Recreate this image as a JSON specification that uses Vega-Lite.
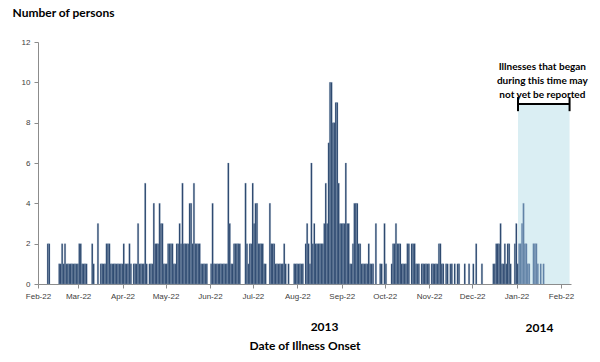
{
  "$schema": "https://vega.github.io/schema/vega-lite/v6.json",
  "width": 533,
  "height": 242,
  "autosize": "none",
  "padding": {"left": 38, "top": 42, "right": 29, "bottom": 78},
  "background": "white",
  "config": {
    "view": {"stroke": null},
    "axis": {"labelFont": "Liberation Sans", "labelFontSize": 8, "labelColor": "#404040", "domainColor": "#8c8c8c", "tickColor": "#8c8c8c", "titleFont": "Lato", "titleFontWeight": "bold", "titleColor": "#000000", "titleFontSize": 12, "grid": false, "labelFlush": false}
  },
  "datasets": {
    "cases": [
      {"date":"2013-02-28","count":2},{"date":"2013-03-01","count":2},
      {"date":"2013-03-08","count":1},{"date":"2013-03-09","count":1},{"date":"2013-03-10","count":2},{"date":"2013-03-11","count":1},{"date":"2013-03-12","count":2},{"date":"2013-03-13","count":1},{"date":"2013-03-14","count":1},{"date":"2013-03-15","count":1},{"date":"2013-03-16","count":1},{"date":"2013-03-17","count":1},{"date":"2013-03-18","count":1},{"date":"2013-03-19","count":1},{"date":"2013-03-20","count":1},{"date":"2013-03-21","count":1},{"date":"2013-03-22","count":2},{"date":"2013-03-23","count":2},{"date":"2013-03-24","count":1},{"date":"2013-03-25","count":1},{"date":"2013-03-26","count":1},{"date":"2013-03-27","count":1},{"date":"2013-03-31","count":2},
      {"date":"2013-04-01","count":1},{"date":"2013-04-04","count":3},{"date":"2013-04-06","count":1},{"date":"2013-04-07","count":1},{"date":"2013-04-08","count":1},{"date":"2013-04-09","count":1},{"date":"2013-04-10","count":2},{"date":"2013-04-11","count":2},{"date":"2013-04-12","count":2},{"date":"2013-04-13","count":1},{"date":"2013-04-14","count":1},{"date":"2013-04-15","count":1},{"date":"2013-04-16","count":1},{"date":"2013-04-17","count":1},{"date":"2013-04-18","count":1},{"date":"2013-04-19","count":1},{"date":"2013-04-20","count":1},{"date":"2013-04-21","count":1},{"date":"2013-04-22","count":2},{"date":"2013-04-23","count":1},{"date":"2013-04-24","count":1},{"date":"2013-04-25","count":1},{"date":"2013-04-26","count":2},{"date":"2013-04-27","count":1},{"date":"2013-04-29","count":1},{"date":"2013-04-30","count":1},
      {"date":"2013-05-01","count":1},{"date":"2013-05-02","count":3},{"date":"2013-05-03","count":1},{"date":"2013-05-04","count":1},{"date":"2013-05-05","count":1},{"date":"2013-05-06","count":1},{"date":"2013-05-07","count":5},{"date":"2013-05-08","count":1},{"date":"2013-05-10","count":1},{"date":"2013-05-11","count":1},{"date":"2013-05-12","count":1},{"date":"2013-05-13","count":4},{"date":"2013-05-14","count":2},{"date":"2013-05-15","count":2},{"date":"2013-05-16","count":2},{"date":"2013-05-17","count":4},{"date":"2013-05-18","count":3},{"date":"2013-05-19","count":3},{"date":"2013-05-20","count":1},{"date":"2013-05-21","count":1},{"date":"2013-05-22","count":1},{"date":"2013-05-23","count":2},{"date":"2013-05-24","count":2},{"date":"2013-05-25","count":2},{"date":"2013-05-26","count":2},{"date":"2013-05-27","count":1},{"date":"2013-05-28","count":1},{"date":"2013-05-29","count":2},{"date":"2013-05-30","count":2},{"date":"2013-05-31","count":3},
      {"date":"2013-06-01","count":2},{"date":"2013-06-02","count":5},{"date":"2013-06-03","count":2},{"date":"2013-06-04","count":2},{"date":"2013-06-05","count":2},{"date":"2013-06-06","count":2},{"date":"2013-06-07","count":4},{"date":"2013-06-08","count":4},{"date":"2013-06-09","count":2},{"date":"2013-06-10","count":5},{"date":"2013-06-11","count":2},{"date":"2013-06-12","count":2},{"date":"2013-06-13","count":2},{"date":"2013-06-14","count":2},{"date":"2013-06-15","count":1},{"date":"2013-06-16","count":1},{"date":"2013-06-17","count":1},{"date":"2013-06-18","count":1},{"date":"2013-06-19","count":1},{"date":"2013-06-22","count":1},{"date":"2013-06-23","count":4},{"date":"2013-06-24","count":1},{"date":"2013-06-25","count":1},{"date":"2013-06-26","count":1},{"date":"2013-06-27","count":1},{"date":"2013-06-28","count":1},{"date":"2013-06-29","count":1},{"date":"2013-06-30","count":1},
      {"date":"2013-07-01","count":1},{"date":"2013-07-02","count":1},{"date":"2013-07-03","count":1},{"date":"2013-07-04","count":6},{"date":"2013-07-05","count":3},{"date":"2013-07-06","count":1},{"date":"2013-07-07","count":1},{"date":"2013-07-08","count":2},{"date":"2013-07-09","count":2},{"date":"2013-07-10","count":2},{"date":"2013-07-11","count":2},{"date":"2013-07-12","count":2},{"date":"2013-07-16","count":5},{"date":"2013-07-17","count":2},{"date":"2013-07-18","count":1},{"date":"2013-07-19","count":2},{"date":"2013-07-20","count":2},{"date":"2013-07-21","count":5},{"date":"2013-07-22","count":3},{"date":"2013-07-23","count":4},{"date":"2013-07-24","count":4},{"date":"2013-07-25","count":2},{"date":"2013-07-26","count":2},{"date":"2013-07-27","count":2},{"date":"2013-07-28","count":2},{"date":"2013-07-29","count":1},{"date":"2013-07-30","count":1},
      {"date":"2013-08-02","count":4},{"date":"2013-08-03","count":2},{"date":"2013-08-04","count":2},{"date":"2013-08-05","count":2},{"date":"2013-08-06","count":1},{"date":"2013-08-07","count":1},{"date":"2013-08-08","count":1},{"date":"2013-08-09","count":1},{"date":"2013-08-10","count":1},{"date":"2013-08-11","count":1},{"date":"2013-08-12","count":2},{"date":"2013-08-13","count":1},{"date":"2013-08-15","count":1},{"date":"2013-08-19","count":1},{"date":"2013-08-20","count":1},{"date":"2013-08-21","count":1},{"date":"2013-08-22","count":1},{"date":"2013-08-23","count":1},{"date":"2013-08-24","count":1},{"date":"2013-08-25","count":1},{"date":"2013-08-27","count":2},{"date":"2013-08-28","count":3},{"date":"2013-08-29","count":2},{"date":"2013-08-30","count":1},{"date":"2013-08-31","count":6},
      {"date":"2013-09-01","count":2},{"date":"2013-09-02","count":3},{"date":"2013-09-03","count":2},{"date":"2013-09-04","count":2},{"date":"2013-09-05","count":2},{"date":"2013-09-06","count":2},{"date":"2013-09-07","count":2},{"date":"2013-09-08","count":2},{"date":"2013-09-09","count":3},{"date":"2013-09-10","count":5},{"date":"2013-09-11","count":3},{"date":"2013-09-12","count":7},{"date":"2013-09-13","count":10},{"date":"2013-09-14","count":10},{"date":"2013-09-15","count":8},{"date":"2013-09-16","count":8},{"date":"2013-09-17","count":9},{"date":"2013-09-18","count":9},{"date":"2013-09-19","count":5},{"date":"2013-09-20","count":3},{"date":"2013-09-21","count":3},{"date":"2013-09-22","count":3},{"date":"2013-09-23","count":3},{"date":"2013-09-24","count":6},{"date":"2013-09-25","count":3},{"date":"2013-09-26","count":3},{"date":"2013-09-27","count":1},{"date":"2013-09-28","count":1},{"date":"2013-09-29","count":2},{"date":"2013-09-30","count":4},
      {"date":"2013-10-01","count":4},{"date":"2013-10-02","count":4},{"date":"2013-10-03","count":2},{"date":"2013-10-04","count":2},{"date":"2013-10-05","count":1},{"date":"2013-10-06","count":1},{"date":"2013-10-07","count":1},{"date":"2013-10-08","count":1},{"date":"2013-10-09","count":1},{"date":"2013-10-10","count":2},{"date":"2013-10-11","count":1},{"date":"2013-10-12","count":1},{"date":"2013-10-13","count":1},{"date":"2013-10-15","count":3},{"date":"2013-10-18","count":1},{"date":"2013-10-19","count":1},{"date":"2013-10-21","count":3},{"date":"2013-10-22","count":1},{"date":"2013-10-26","count":1},{"date":"2013-10-27","count":2},{"date":"2013-10-28","count":2},{"date":"2013-10-29","count":3},{"date":"2013-10-30","count":2},{"date":"2013-10-31","count":2},
      {"date":"2013-11-01","count":2},{"date":"2013-11-02","count":1},{"date":"2013-11-03","count":1},{"date":"2013-11-04","count":1},{"date":"2013-11-05","count":1},{"date":"2013-11-06","count":2},{"date":"2013-11-07","count":2},{"date":"2013-11-09","count":2},{"date":"2013-11-10","count":2},{"date":"2013-11-11","count":2},{"date":"2013-11-12","count":1},{"date":"2013-11-13","count":1},{"date":"2013-11-14","count":1},{"date":"2013-11-16","count":1},{"date":"2013-11-17","count":1},{"date":"2013-11-18","count":1},{"date":"2013-11-19","count":1},{"date":"2013-11-20","count":1},{"date":"2013-11-21","count":1},{"date":"2013-11-23","count":1},{"date":"2013-11-24","count":1},{"date":"2013-11-25","count":1},{"date":"2013-11-26","count":1},{"date":"2013-11-27","count":1},{"date":"2013-11-28","count":2},{"date":"2013-11-29","count":2},{"date":"2013-11-30","count":1},
      {"date":"2013-12-01","count":1},{"date":"2013-12-03","count":1},{"date":"2013-12-04","count":1},{"date":"2013-12-06","count":1},{"date":"2013-12-07","count":1},{"date":"2013-12-09","count":1},{"date":"2013-12-11","count":1},{"date":"2013-12-12","count":1},{"date":"2013-12-16","count":1},{"date":"2013-12-19","count":1},{"date":"2013-12-22","count":1},{"date":"2013-12-24","count":2},{"date":"2013-12-28","count":1},
      {"date":"2014-01-05","count":1},{"date":"2014-01-06","count":1},{"date":"2014-01-07","count":2},{"date":"2014-01-08","count":2},{"date":"2014-01-09","count":2},{"date":"2014-01-10","count":3},{"date":"2014-01-11","count":1},{"date":"2014-01-12","count":1},{"date":"2014-01-13","count":2},{"date":"2014-01-14","count":1},{"date":"2014-01-15","count":2},{"date":"2014-01-16","count":2},{"date":"2014-01-17","count":1},{"date":"2014-01-20","count":2},{"date":"2014-01-21","count":3},{"date":"2014-01-22","count":1},{"date":"2014-01-23","count":2},{"date":"2014-01-24","count":2},{"date":"2014-01-25","count":3},{"date":"2014-01-26","count":4},{"date":"2014-01-27","count":2},{"date":"2014-01-28","count":2},{"date":"2014-01-29","count":1},{"date":"2014-01-30","count":1},
      {"date":"2014-02-02","count":2},{"date":"2014-02-03","count":2},{"date":"2014-02-04","count":2},{"date":"2014-02-05","count":1},{"date":"2014-02-07","count":1},{"date":"2014-02-09","count":1}
    ]
  },
  "layer": [
    {
      "data": {"values": [{}]},
      "mark": {"type": "rect", "color": "#daeef3"},
      "encoding": {
        "x": {"datum": {"year": 2014, "month": 1, "date": 23, "utc": true}, "type": "temporal"},
        "x2": {"datum": {"year": 2014, "month": 2, "date": 28, "utc": true}},
        "y": {"datum": 0, "type": "quantitative"},
        "y2": {"datum": 8.92}
      }
    },
    {
      "data": {"name": "cases"},
      "mark": {"type": "bar", "binSpacing": 0, "stroke": "#8da2bd", "strokeWidth": 0.3},
      "encoding": {
        "x": {
          "field": "date", "type": "temporal", "timeUnit": "utcyearmonthdate",
          "scale": {"type": "utc", "nice": false, "domain": [{"year": 2013, "month": 2, "date": 22, "utc": true}, {"year": 2014, "month": 3, "date": 1, "utc": true}]},
          "axis": {
            "title": "Date of Illness Onset",
            "titlePadding": 40,
            "format": "%b-%d",
            "labelPadding": 4,
            "tickSize": 4,
            "values": [
              {"year": 2013, "month": 2, "date": 22, "utc": true},
              {"year": 2013, "month": 3, "date": 22, "utc": true},
              {"year": 2013, "month": 4, "date": 22, "utc": true},
              {"year": 2013, "month": 5, "date": 22, "utc": true},
              {"year": 2013, "month": 6, "date": 22, "utc": true},
              {"year": 2013, "month": 7, "date": 22, "utc": true},
              {"year": 2013, "month": 8, "date": 22, "utc": true},
              {"year": 2013, "month": 9, "date": 22, "utc": true},
              {"year": 2013, "month": 10, "date": 22, "utc": true},
              {"year": 2013, "month": 11, "date": 22, "utc": true},
              {"year": 2013, "month": 12, "date": 22, "utc": true},
              {"year": 2014, "month": 1, "date": 22, "utc": true},
              {"year": 2014, "month": 2, "date": 22, "utc": true}
            ]
          }
        },
        "y": {
          "field": "count", "type": "quantitative",
          "scale": {"domain": [0, 12], "nice": false},
          "axis": {"values": [0, 2, 4, 6, 8, 10, 12], "title": "Number of persons", "titleAngle": 0, "titleAlign": "left", "titleBaseline": "alphabetic", "titleX": -26, "titleY": -26, "tickSize": 4, "labelPadding": 4}
        },
        "color": {
          "condition": {"test": "time(datum.date) >= utc(2014, 0, 22, 12)", "value": "#5a7ea4"},
          "value": "#1f3b63"
        }
      }
    },
    {
      "data": {"values": [{}]},
      "mark": {"type": "rule", "color": "#000000", "strokeWidth": 2},
      "encoding": {
        "x": {"datum": {"year": 2014, "month": 1, "date": 23, "utc": true}, "type": "temporal"},
        "x2": {"datum": {"year": 2014, "month": 2, "date": 28, "utc": true}},
        "y": {"datum": 8.92, "type": "quantitative"}
      }
    },
    {
      "data": {"values": [{}]},
      "mark": {"type": "rule", "color": "#000000", "strokeWidth": 2},
      "encoding": {
        "x": {"datum": {"year": 2014, "month": 1, "date": 23, "utc": true}, "type": "temporal"},
        "y": {"datum": 8.57, "type": "quantitative"},
        "y2": {"datum": 9.27}
      }
    },
    {
      "data": {"values": [{}]},
      "mark": {"type": "rule", "color": "#000000", "strokeWidth": 2},
      "encoding": {
        "x": {"datum": {"year": 2014, "month": 2, "date": 28, "utc": true}, "type": "temporal"},
        "y": {"datum": 8.57, "type": "quantitative"},
        "y2": {"datum": 9.27}
      }
    },
    {
      "data": {"values": [{}]},
      "mark": {"type": "text", "font": "Lato", "fontWeight": "bold", "fontSize": 10, "lineHeight": 14, "align": "center", "baseline": "middle", "lineBreak": "\n", "color": "#000000"},
      "encoding": {
        "x": {"datum": {"year": 2014, "month": 2, "date": 9, "utc": true}, "type": "temporal"},
        "y": {"datum": 10.76, "type": "quantitative"},
        "text": {"value": "Illnesses that began\nduring this time may\nnot yet be reported"}
      }
    },
    {
      "data": {"values": [{}]},
      "mark": {"type": "text", "font": "Lato", "fontWeight": "bold", "fontSize": 12, "align": "center", "baseline": "middle", "dy": 43, "color": "#000000"},
      "encoding": {
        "x": {"datum": {"year": 2013, "month": 9, "date": 10, "utc": true}, "type": "temporal"},
        "y": {"datum": 0, "type": "quantitative"},
        "text": {"value": "2013"}
      }
    },
    {
      "data": {"values": [{}]},
      "mark": {"type": "text", "font": "Lato", "fontWeight": "bold", "fontSize": 12, "align": "center", "baseline": "middle", "dy": 44, "color": "#000000"},
      "encoding": {
        "x": {"datum": {"year": 2014, "month": 2, "date": 7, "utc": true}, "type": "temporal"},
        "y": {"datum": 0, "type": "quantitative"},
        "text": {"value": "2014"}
      }
    }
  ]
}
